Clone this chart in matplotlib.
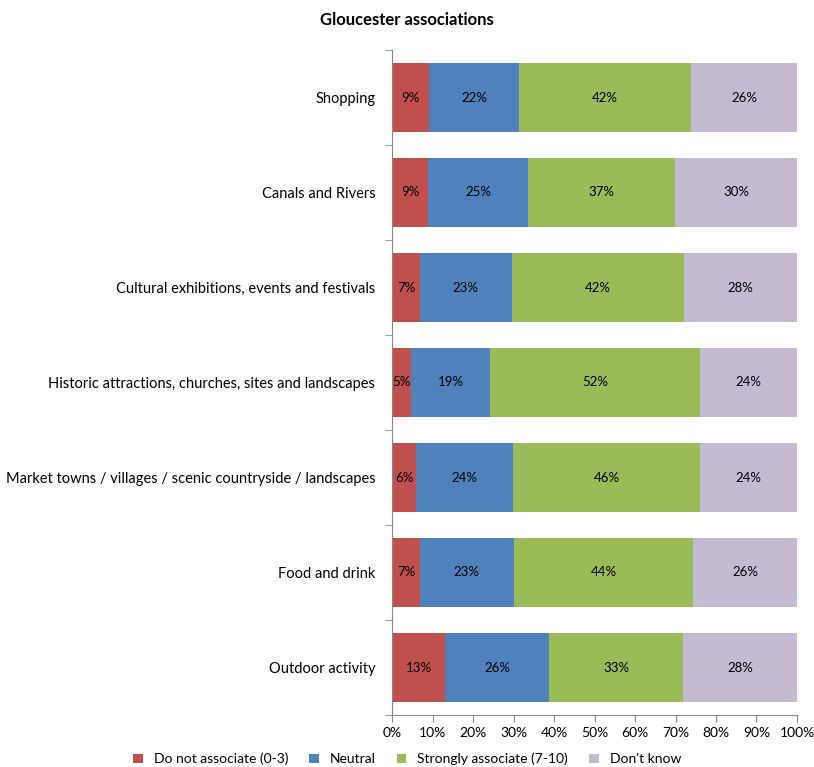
import numpy as np
import matplotlib
matplotlib.use('Agg')
from matplotlib import pyplot as plt
from matplotlib.ticker import FixedLocator, PercentFormatter

categories = ['Shopping', 'Canals and Rivers', 'Cultural exhibitions, events and festivals',
              'Historic attractions, churches, sites and landscapes',
              'Market towns / villages / scenic countryside / landscapes',
              'Food and drink', 'Outdoor activity']
not_assoc = [9.1, 8.9, 6.9, 4.7, 5.9, 6.9, 13.1]
neutral = [22.3, 24.7, 22.7, 19.5, 24.0, 23.2, 25.7]
strongly = [42.4, 36.3, 42.5, 51.8, 46.1, 44.2, 33.1]
dont_know = [26.2, 30.1, 27.9, 24.0, 24.0, 25.7, 28.1]
# labels as printed on the chart
not_assoc_lbl = [9, 9, 7, 5, 6, 7, 13]
neutral_lbl = [22, 25, 23, 19, 24, 23, 26]
strongly_lbl = [42, 37, 42, 52, 46, 44, 33]
dont_know_lbl = [26, 30, 28, 24, 24, 26, 28]

series = [('Do not associate (0-3)', not_assoc, not_assoc_lbl, '#C0504D'),
          ('Neutral', neutral, neutral_lbl, '#4F81BD'),
          ('Strongly associate (7-10)', strongly, strongly_lbl, '#9BBB59'),
          ("Don't know", dont_know, dont_know_lbl, '#C4BAD2')]

plt.rcParams['font.family'] = ['Lato', 'DejaVu Sans']
fig = plt.figure(figsize=(8.14, 7.67), dpi=100)
ax = fig.add_axes([392/814, 1-715/767, 405/814, 665/767])

y = np.arange(len(categories))[::-1]
left = np.zeros(len(categories))
for name, vals, lbls, col in series:
    vals = np.array(vals)
    ax.barh(y, vals, left=left, height=0.72, color=col, label=name)
    for yi, l, v, t in zip(y, left, vals, lbls):
        ax.text(l + v/2, yi, '%d%%' % t, ha='center', va='center', fontsize=9.5)
    left += vals

ax.set_xlim(0, 100)
ax.set_ylim(-0.5, len(categories)-0.5)
ax.xaxis.set_major_locator(FixedLocator(np.arange(0, 101, 10)))
ax.xaxis.set_major_formatter(PercentFormatter(decimals=0))
ax.set_yticks(y)
ax.set_yticklabels(categories, fontsize=10.5)
ax.set_yticks(np.arange(-0.5, len(categories)), minor=True)
ax.tick_params(axis='y', which='major', length=0, pad=12)
ax.tick_params(axis='y', which='minor', length=5, color='#888888')
ax.tick_params(axis='x', labelsize=10, color='#888888', length=5)
for s in ['top', 'right']:
    ax.spines[s].set_visible(False)
for s in ['left', 'bottom']:
    ax.spines[s].set_color('#888888')

fig.text(0.5, 1-20/767, 'Gloucester associations', ha='center', va='center',
         fontsize=12, fontweight='bold')
fig.legend(loc='center', bbox_to_anchor=(0.5, 1-759/767), ncol=4, frameon=False,
           fontsize=10, handlelength=0.7, handleheight=0.7, columnspacing=1.5)

plt.savefig('out.png', dpi=100)
